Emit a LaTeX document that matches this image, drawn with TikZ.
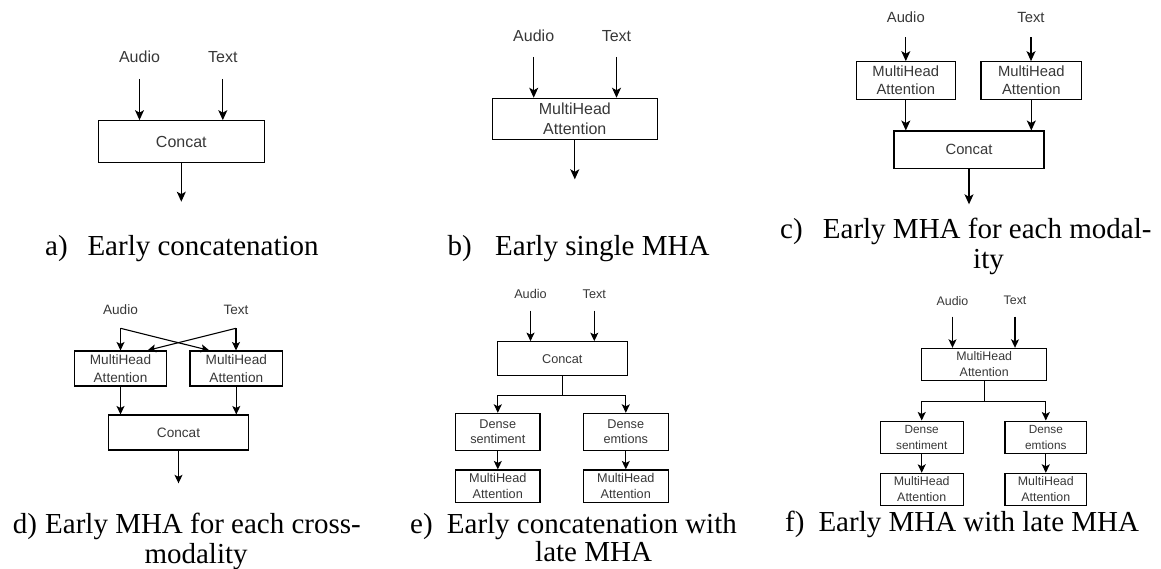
\documentclass[tikz,border=0pt]{standalone}
\usepackage{fontspec}
\setmainfont{Liberation Serif}
\newfontfamily\arialf{Liberation Sans}
\usetikzlibrary{arrows.meta,calc}
\definecolor{txtgray}{HTML}{383838}
\begin{document}
\begin{tikzpicture}[x=1pt,y=-1pt,
  arr/.style={-{Stealth[length=10pt,width=9pt,inset=2.5pt]}, line width=1.2pt},
  arrs/.style={-{Stealth[length=8.5pt,width=8pt,inset=2pt]}, line width=1.1pt},
  ln/.style={line width=1.1pt},
  box/.style={draw, line width=1.1pt, inner sep=0pt, align=center, text=txtgray},
  bx/.style 2 args={minimum width=#1pt, minimum height=#2pt},
  lbl/.style={inner sep=0pt, text=txtgray},
  captxt/.style={anchor=base west, inner sep=0pt, font=\fontsize{29}{30}\selectfont},
  fntA/.style={font=\arialf\fontsize{16}{19.5}\selectfont},
  fntC/.style={font=\arialf\fontsize{14.8}{18.3}\selectfont},
  fntD/.style={font=\arialf\fontsize{13.6}{17.3}\selectfont},
  fntE/.style={font=\arialf\fontsize{12.7}{15.7}\selectfont},
  fntF/.style={font=\arialf\fontsize{12.4}{15.7}\selectfont},
  fntFd/.style={font=\arialf\fontsize{11.8}{15.7}\selectfont}
]
\fill[white] (0,0) rectangle (1161,569);
\useasboundingbox (0,0) rectangle (1161,569);

% ---------- a) ----------
\node[lbl,fntA] (aA) at (139.5,57) {Audio};
\node[lbl,fntA] (aT) at (222.8,57) {Text};
\node[box,fntA,bx={166}{41.6}] (aC) at (181.3,141.5) {Concat};
\coordinate (aO) at (181.3,201.7);
\draw[arr,shorten <=22pt] (aA.center) -- (aA.center |- aC.north);
\draw[arr,shorten <=22pt] (aT.center) -- (aT.center |- aC.north);
\draw[arr] (aC.south) -- (aO);
\node[captxt] (aL) at (45,255.7) {a)};
\node[captxt] (aCap) at (87.3,255.7) {Early concatenation};

% ---------- b) ----------
\node[lbl,fntA] (bA) at (533.7,36) {Audio};
\node[lbl,fntA] (bT) at (616.5,36) {Text};
\node[box,fntA,bx={165}{41}] (bM) at (574.8,118.8) {MultiHead\\Attention};
\coordinate (bO) at (574.8,179.3);
\draw[arr,shorten <=21pt] (bA.center) -- (bA.center |- bM.north);
\draw[arr,shorten <=21pt] (bT.center) -- (bT.center |- bM.north);
\draw[arr] (bM.south) -- (bO);
\node[captxt] (bL) at (447.3,255.7) {b)};
\node[captxt] (bCap) at (495,255.7) {Early single MHA};

% ---------- c) ----------
\node[lbl,fntC] (cA) at (905.8,17.3) {Audio};
\node[lbl,fntC] (cT) at (1031,17.3) {Text};
\node[box,fntC,bx={99}{37.6}] (cM1) at (905.8,80.5) {MultiHead\\Attention};
\node[box,fntC,bx={100.7}{37.6}] (cM2) at (1031.3,80.5) {MultiHead\\Attention};
\node[box,fntC,bx={150}{37.3}] (cC) at (969,149.7) {Concat};
\coordinate (cO) at (969,204.3);
\draw[arr,shorten <=20pt] (cA.center) -- (cA.center |- cM1.north);
\draw[arr,shorten <=20pt] (cT.center) -- (cT.center |- cM2.north);
\draw[arr] (cM1.south) -- (cM1.south |- cC.north);
\draw[arr] (cM2.south) -- (cM2.south |- cC.north);
\draw[arr] (cC.south) -- (cO);
\node[captxt] (cL) at (780,238.3) {c)};
\node[captxt] (cCap) at (822.7,238.3) {Early MHA for each modal-};
\node[captxt] (cCap2) at (973,268.3) {ity};

% ---------- d) ----------
\node[lbl,fntD] (dA) at (120.5,310) {Audio};
\node[lbl,fntD] (dT) at (236,310) {Text};
\coordinate (dJa) at (120.5,328.3);
\coordinate (dJt) at (236,328.3);
\node[box,fntD,bx={92.7}{35}] (dM1) at (120.5,368.5) {MultiHead\\Attention};
\node[box,fntD,bx={92.7}{35}] (dM2) at (236.3,368.5) {MultiHead\\Attention};
\node[box,fntD,bx={139.6}{35}] (dC) at (178.5,432.5) {Concat};
\coordinate (dO) at (178.5,483.3);
\draw[arrs] (dJa) -- (dJa |- dM1.north);
\draw[arrs] (dJa) -- ($(dM2.north west)+(20,0)$);
\draw[arrs] (dJt) -- (dJt |- dM2.north);
\draw[arrs] (dJt) -- ($(dM1.north east)+(-20,0)$);
\draw[arrs] (dM1.south) -- (dM1.south |- dC.north);
\draw[arrs] (dM2.south) -- (dM2.south |- dC.north);
\draw[arrs] (dC.south) -- (dO);
\node[captxt] (dL) at (12.7,533.3) {d)};
\node[captxt] (dCap) at (45,533.3) {Early MHA for each cross-};
\node[captxt] (dCap2) at (144.3,563.3) {modality};

% ---------- e) ----------
\node[lbl,fntE] (eA) at (530.5,294) {Audio};
\node[lbl,fntE] (eT) at (594.3,294) {Text};
\node[box,fntE,bx={130}{34}] (eC) at (562.3,358.7) {Concat};
\coordinate (eJ) at (562.3,395.7);
\node[box,fntE,bx={84.3}{36.7}] (eD1) at (497.8,431.7) {Dense\\sentiment};
\node[box,fntE,bx={85}{36.7}] (eD2) at (625.8,431.7) {Dense\\emtions};
\node[box,fntE,bx={84.3}{32.7}] (eM1) at (497.8,486.3) {MultiHead\\Attention};
\node[box,fntE,bx={85}{32.7}] (eM2) at (625.8,486.3) {MultiHead\\Attention};
\draw[arrs,shorten <=16.7pt] (eA.center) -- (eA.center |- eC.north);
\draw[arrs,shorten <=16.7pt] (eT.center) -- (eT.center |- eC.north);
\draw[ln] (eC.south) -- (eJ);
\draw[arrs] (eJ) -| (eD1.north);
\draw[arrs] (eJ) -| (eD2.north);
\draw[arrs] (eD1) -- (eM1);
\draw[arrs] (eD2) -- (eM2);
\node[captxt] (eL) at (410,533.3) {e)};
\node[captxt] (eCap) at (446.7,533.3) {Early concatenation with};
\node[captxt] (eCap2) at (535,561.7) {late MHA};

% ---------- f) ----------
\node[lbl,fntF] (fA) at (952.5,300.7) {Audio};
\node[lbl,fntF] (fT) at (1015,300.7) {Text};
\node[box,fntF,bx={125}{31.7}] (fM) at (984.2,364.2) {MultiHead\\Attention};
\coordinate (fJ) at (984.2,401.7);
\node[box,fntFd,bx={83.3}{32.3}] (fD1) at (921.7,437.2) {Dense\\sentiment};
\node[box,fntFd,bx={81.7}{32.3}] (fD2) at (1045.8,437.2) {Dense\\emtions};
\node[box,fntF,bx={83.3}{31.7}] (fM1) at (921.7,489.2) {MultiHead\\Attention};
\node[box,fntF,bx={81.7}{31.7}] (fM2) at (1045.8,489.2) {MultiHead\\Attention};
\draw[arrs,shorten <=16pt] (fA.center) -- (fA.center |- fM.north);
\draw[arrs,shorten <=16pt] (fT.center) -- (fT.center |- fM.north);
\draw[ln] (fM.south) -- (fJ);
\draw[arrs] (fJ) -| (fD1.north);
\draw[arrs] (fJ) -| (fD2.north);
\draw[arrs] (fD1) -- (fM1);
\draw[arrs] (fD2) -- (fM2);
\node[captxt] (fL) at (785,531.7) {f)};
\node[captxt] (fCap) at (818.3,531.7) {Early MHA with late MHA};
\end{tikzpicture}
\end{document}
